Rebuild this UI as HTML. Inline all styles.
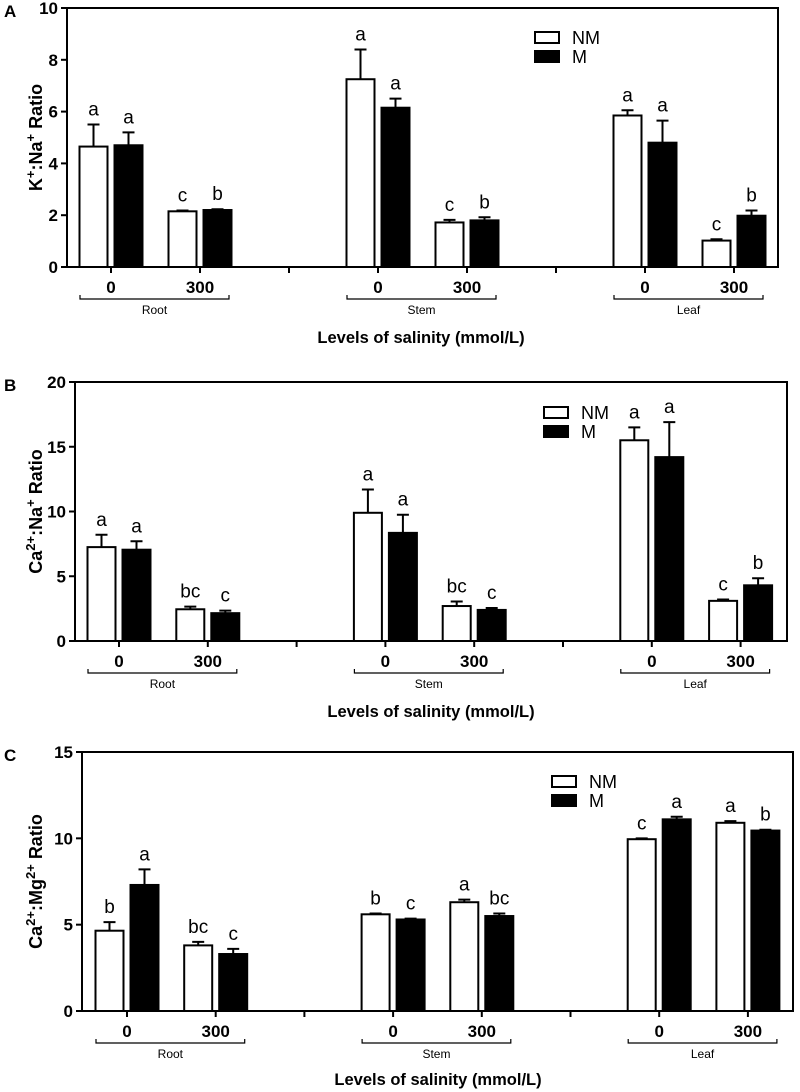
<!DOCTYPE html>
<html><head><meta charset="utf-8">
<style>
html,body{margin:0;padding:0;background:#fff;}
svg{display:block;font-family:"Liberation Sans",Arial,sans-serif;}
</style></head>
<body>
<svg id="chart" width="800" height="1092" viewBox="0 0 800 1092" xmlns="http://www.w3.org/2000/svg"></svg>
<script>
// Shared categories
const tissues = ["Root", "Stem", "Leaf"];
const levels = ["0", "300"];
const seriesNames = ["NM", "M"];

// Panel A: K+:Na+
const aNM = [4.65, 2.15, 7.25, 1.72, 5.85, 1.02];
const aNMerr = [0.85, 0.03, 1.15, 0.1, 0.2, 0.05];
const aM = [4.7, 2.2, 6.15, 1.8, 4.8, 1.98];
const aMerr = [0.5, 0.03, 0.35, 0.12, 0.85, 0.2];
const aNMsig = ["a", "c", "a", "c", "a", "c"];
const aMsig = ["a", "b", "a", "b", "a", "b"];
const aTicks = [0, 2, 4, 6, 8, 10];

// Panel B: Ca2+:Na+
const bNM = [7.25, 2.45, 9.9, 2.7, 15.5, 3.1];
const bNMerr = [0.95, 0.2, 1.8, 0.35, 1.0, 0.1];
const bM = [7.05, 2.15, 8.35, 2.4, 14.2, 4.3];
const bMerr = [0.65, 0.2, 1.4, 0.15, 2.7, 0.55];
const bNMsig = ["a", "bc", "a", "bc", "a", "c"];
const bMsig = ["a", "c", "a", "c", "a", "b"];
const bTicks = [0, 5, 10, 15, 20];

// Panel C: Ca2+:Mg2+
const cNM = [4.65, 3.8, 5.6, 6.3, 9.95, 10.9];
const cNMerr = [0.5, 0.2, 0.05, 0.15, 0.05, 0.1];
const cM = [7.3, 3.3, 5.3, 5.5, 11.1, 10.45];
const cMerr = [0.9, 0.3, 0.05, 0.15, 0.15, 0.05];
const cNMsig = ["b", "bc", "b", "a", "c", "a"];
const cMsig = ["a", "c", "c", "bc", "a", "b"];
const cTicks = [0, 5, 10, 15];

const NS = "http://www.w3.org/2000/svg";
const svg = document.getElementById("chart");
function mk(tag, attrs, parent, text) {
  const e = document.createElementNS(NS, tag);
  for (const k in attrs) e.setAttribute(k, attrs[k]);
  if (text !== undefined) e.textContent = text;
  (parent || svg).appendChild(e);
  return e;
}

function panel(cfg, nm, nmErr, m, mErr, nmSig, mSig, ticks) {
  const g = mk("g", {});
  
  
  const ymax = ticks[ticks.length - 1];
  const yS = v => cfg.bot - (v / ymax) * (cfg.bot - cfg.top);
  const xC = i => cfg.c0 + (i + Math.floor(i / 2)) * cfg.step;

  const L = mk("text", {x: 4, y: cfg.top + 9, "font-size": 17, "font-weight": "bold"}, g, cfg.letter);
  
  

  const fr = mk("path", {d: `M${cfg.x0},${cfg.bot} L${cfg.x0},${cfg.top} L${cfg.right},${cfg.top} L${cfg.right},${cfg.bot} L${cfg.x0},${cfg.bot}`, fill: "none", stroke: "#000", "stroke-width": 2}, g);
  
  

  ticks.forEach(t => {
    const y = yS(t);
    const tk = mk("line", {x1: cfg.x0 - 6, x2: cfg.x0, y1: y, y2: y, stroke: "#000", "stroke-width": 2}, g);
    
    
    const tl = mk("text", {x: cfg.x0 - 9, y: y + 6, "text-anchor": "end", "font-size": 17, "font-weight": "bold"}, g, String(t));
    
    
  });

  const yt = mk("text", {transform: `translate(${cfg.ytx},${(cfg.top + cfg.bot) / 2}) rotate(-90)`, "text-anchor": "middle", "font-size": 18, "font-weight": "bold"}, g);
  
  
  cfg.ytitle.forEach(p => {
    mk("tspan", p.sup ? {"baseline-shift": "super", "font-size": 13} : {}, yt, p.t);
  });

  for (let i = 0; i < 6; i++) {
    const x = xC(i);
    const tk = mk("line", {x1: x, x2: x, y1: cfg.bot, y2: cfg.bot + 6, stroke: "#000", "stroke-width": 2}, g);
    
    
    const tl = mk("text", {x: x, y: cfg.bot + 26, "text-anchor": "middle", "font-size": 17, "font-weight": "bold"}, g, levels[i % 2]);
    
    
    if (i % 2 === 1 && i < 5) {
      const sx = x + cfg.step;
      const sp = mk("line", {x1: sx, x2: sx, y1: cfg.bot, y2: cfg.bot + 6, stroke: "#000", "stroke-width": 2}, g);
      
      
    }
  }
  tissues.forEach((t, k) => {
    const xa = xC(2 * k) - 31, xb = xC(2 * k + 1) + 29;
    const by = cfg.bot + 32;
    const br = mk("path", {d: `M${xa},${by - 4} L${xa},${by} L${xb},${by} L${xb},${by - 4}`, fill: "none", stroke: "#000", "stroke-width": 1.2}, g);
    
    
    const bl = mk("text", {x: (xa + xb) / 2, y: by + 15, "text-anchor": "middle", "font-size": 12}, g, t);
    
    
  });
  const xt = mk("text", {x: cfg.xtx, y: cfg.xty, "text-anchor": "middle", "font-size": 16.5, "font-weight": "bold"}, g, "Levels of salinity (mmol/L)");
  
  

  function bars(vals, errs, sigs, off, fill, name) {
    vals.forEach((v, i) => {
      const x = xC(i) + off;
      const y = yS(v), ye = yS(v + errs[i]);
      const xm = x + 14;
      const eb = mk("path", {d: `M${xm},${y} L${xm},${ye} M${xm - 6},${ye} L${xm + 6},${ye}`, stroke: "#000", "stroke-width": 2, fill: "none"}, g);
      
      
      const r = mk("rect", {x: x, y: y, width: 28, height: cfg.bot - y, fill: fill, stroke: "#000", "stroke-width": 2}, g);
      
      
      const s = mk("text", {x: xm, y: ye - 9, "text-anchor": "middle", "font-size": 19}, g, sigs[i]);
      
      
    });
  }
  bars(nm, nmErr, nmSig, -31.5, "#fff", "NM");
  bars(m, mErr, mSig, 3.5, "#000", "M");

  const lg = mk("g", {}, g);
  
  
  seriesNames.forEach((s, k) => {
    const y = cfg.ly + k * 19;
    const sw = mk("rect", {x: cfg.lx, y: y, width: 24, height: 11, fill: k ? "#000" : "#fff", stroke: "#000", "stroke-width": 2}, lg);
    
    
    const lt = mk("text", {x: cfg.lx + 37, y: y + 12, "font-size": 18}, lg, s);
    
    
  });
}

panel({letter: "A", x0: 67, top: 8, bot: 267, right: 778, c0: 111, step: 89, ytx: 42, xtx: 421, xty: 343, lx: 535, ly: 32,
  ytitle: [{t: "K"}, {t: "+", sup: 1}, {t: ":Na"}, {t: "+", sup: 1}, {t: " Ratio"}]},
  aNM, aNMerr, aM, aMerr, aNMsig, aMsig, aTicks);
panel({letter: "B", x0: 75, top: 382, bot: 641, right: 787, c0: 119, step: 88.8, ytx: 42, xtx: 431, xty: 717, lx: 544, ly: 407,
  ytitle: [{t: "Ca"}, {t: "2+", sup: 1}, {t: ":Na"}, {t: "+", sup: 1}, {t: " Ratio"}]},
  bNM, bNMerr, bM, bMerr, bNMsig, bMsig, bTicks);
panel({letter: "C", x0: 82, top: 752, bot: 1011, right: 793, c0: 127, step: 88.7, ytx: 42, xtx: 438, xty: 1085, lx: 552, ly: 776,
  ytitle: [{t: "Ca"}, {t: "2+", sup: 1}, {t: ":Mg"}, {t: "2+", sup: 1}, {t: " Ratio"}]},
  cNM, cNMerr, cM, cMerr, cNMsig, cMsig, cTicks);
</script>
</body></html>
